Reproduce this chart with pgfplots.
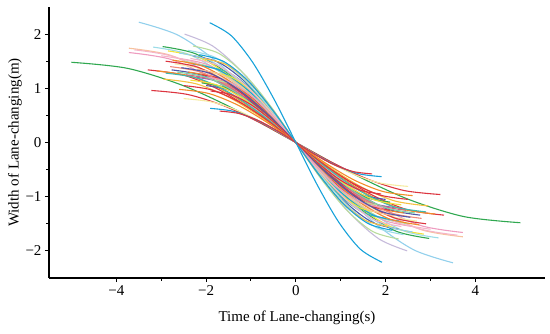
\documentclass[border=0pt]{standalone}
\usepackage{pgfplots}
\pgfplotsset{compat=1.18}
\usepackage{fontspec}
\setmainfont{Liberation Serif}
\definecolor{cred}{HTML}{DC3540}
\definecolor{cgreen}{HTML}{30A850}
\definecolor{ccyan}{HTML}{17A2DA}
\definecolor{clav}{HTML}{C6BBDB}
\definecolor{csky}{HTML}{92D0EC}
\definecolor{cpeach}{HTML}{F7C29C}
\definecolor{cpink}{HTML}{EE9CC0}
\definecolor{clpink}{HTML}{F5B5C8}
\definecolor{clcyan}{HTML}{9CDCE8}
\definecolor{corange}{HTML}{F28C28}
\definecolor{cnavy}{HTML}{5058A8}
\definecolor{clyellow}{HTML}{F6EBA2}
\definecolor{cyellow}{HTML}{F2E23C}
\definecolor{clgreen}{HTML}{B8DC9C}
\definecolor{cteal}{HTML}{3FB8AF}
\definecolor{cpurple}{HTML}{8E6BB5}
\definecolor{csalmon}{HTML}{F08A7A}
\definecolor{crose}{HTML}{E0607E}
\definecolor{cgold}{HTML}{F5C040}
\definecolor{cmint}{HTML}{7FD1A8}
\begin{document}
\begin{tikzpicture}
\begin{axis}[
  name=ax,
  scale only axis,
  width=496bp, height=271bp,
  xmin=-5.5, xmax=5.55, ymin=-2.5, ymax=2.5,
  axis x line*=bottom, axis y line*=left,
  axis line style={line width=1.1pt, black},
  tick align=outside,
  major tick length=4bp, minor tick length=2.5bp,
  tick style={line width=1pt, black},
  xtick={-4,-2,0,2,4}, xticklabels={−4,−2,0,2,4},
  ytick={-2,-1,0,1,2}, yticklabels={−2,−1,0,1,2},
  minor x tick num=1, minor y tick num=1,
  ticklabel style={font=\fontsize{15bp}{17bp}\selectfont},
  label style={font=\fontsize{15bp}{17bp}\selectfont},
  xlabel={Time of Lane-changing(s)},
  ylabel={Width of Lane-changing(m)},
  xlabel style={at={(axis description cs:0.5,0)}, anchor=center, yshift=-40bp},
  ylabel style={at={(axis description cs:0,0.5)}, anchor=center, yshift=34bp},
  cv/.style={smooth, no markers, line width=1.1pt},
]
\addplot[cv,cgreen] coordinates {(-5,1.48)(-3.75,1.368)(-2.5,1.046)(-1.25,0.567)(0,0)(1.25,-0.567)(2.5,-1.046)(3.75,-1.368)(5,-1.48)};
\addplot[cv,csky] coordinates {(-3.5,2.22)(-2.625,1.98)(-1.75,1.483)(-0.875,0.793)(0,0)(0.875,-0.793)(1.75,-1.483)(2.625,-1.98)(3.5,-2.22)};
\addplot[cv,clav] coordinates {(-2.48,2.0)(-1.86,1.784)(-1.24,1.336)(-0.62,0.714)(0,0)(0.62,-0.714)(1.24,-1.336)(1.86,-1.784)(2.48,-2.0)};
\addplot[cv,cpeach] coordinates {(-3.72,1.74)(-2.79,1.608)(-1.86,1.23)(-0.93,0.666)(0,0)(0.93,-0.666)(1.86,-1.23)(2.79,-1.608)(3.72,-1.74)};
\addplot[cv,cpink] coordinates {(-3.72,1.66)(-2.79,1.534)(-1.86,1.174)(-0.93,0.636)(0,0)(0.93,-0.636)(1.86,-1.174)(2.79,-1.534)(3.72,-1.66)};
\addplot[cv,clpink] coordinates {(-3.6,1.71)(-2.7,1.58)(-1.8,1.209)(-0.9,0.655)(0,0)(0.9,-0.655)(1.8,-1.209)(2.7,-1.58)(3.6,-1.71)};
\addplot[cv,clcyan] coordinates {(-3.18,1.76)(-2.385,1.626)(-1.59,1.244)(-0.795,0.674)(0,0)(0.795,-0.674)(1.59,-1.244)(2.385,-1.626)(3.18,-1.76)};
\addplot[cv,cgreen] coordinates {(-2.97,1.77)(-2.228,1.635)(-1.485,1.251)(-0.743,0.678)(0,0)(0.743,-0.678)(1.485,-1.251)(2.228,-1.635)(2.97,-1.77)};
\addplot[cv,cred] coordinates {(-3.3,1.34)(-2.475,1.238)(-1.65,0.947)(-0.825,0.513)(0,0)(0.825,-0.513)(1.65,-0.947)(2.475,-1.238)(3.3,-1.34)};
\addplot[cv,corange] coordinates {(-3.1,1.32)(-2.325,1.22)(-1.55,0.933)(-0.775,0.506)(0,0)(0.775,-0.506)(1.55,-0.933)(2.325,-1.22)(3.1,-1.32)};
\addplot[cv,cnavy] coordinates {(-2.77,1.34)(-2.078,1.238)(-1.385,0.947)(-0.693,0.513)(0,0)(0.693,-0.513)(1.385,-0.947)(2.078,-1.238)(2.77,-1.34)};
\addplot[cv,cred] coordinates {(-3.22,0.96)(-2.415,0.887)(-1.61,0.679)(-0.805,0.368)(0,0)(0.805,-0.368)(1.61,-0.679)(2.415,-0.887)(3.22,-0.96)};
\addplot[cv,clyellow] coordinates {(-2.5,0.81)(-1.875,0.748)(-1.25,0.573)(-0.625,0.31)(0,0)(0.625,-0.31)(1.25,-0.573)(1.875,-0.748)(2.5,-0.81)};
\addplot[cv,clgreen] coordinates {(-2.29,1.78)(-1.718,1.645)(-1.145,1.258)(-0.573,0.682)(0,0)(0.573,-0.682)(1.145,-1.258)(1.718,-1.645)(2.29,-1.78)};
\addplot[cv,cyellow] coordinates {(-2.85,1.69)(-2.138,1.562)(-1.425,1.195)(-0.713,0.647)(0,0)(0.713,-0.647)(1.425,-1.195)(2.138,-1.562)(2.85,-1.69)};
\addplot[cv,cnavy] coordinates {(-2.29,1.6)(-1.718,1.478)(-1.145,1.131)(-0.573,0.613)(0,0)(0.573,-0.613)(1.145,-1.131)(1.718,-1.478)(2.29,-1.6)};
\addplot[cv,cgold] coordinates {(-2.95,1.17)(-2.213,1.081)(-1.475,0.827)(-0.738,0.448)(0,0)(0.738,-0.448)(1.475,-0.827)(2.213,-1.081)(2.95,-1.17)};
\addplot[cv,cpink] coordinates {(-2.6,1.55)(-1.95,1.432)(-1.3,1.096)(-0.65,0.594)(0,0)(0.65,-0.594)(1.3,-1.096)(1.95,-1.432)(2.6,-1.55)};
\addplot[cv,corange] coordinates {(-2.4,1.3)(-1.8,1.201)(-1.2,0.919)(-0.6,0.498)(0,0)(0.6,-0.498)(1.2,-0.919)(1.8,-1.201)(2.4,-1.3)};
\addplot[cv,cred] coordinates {(-2.1,1.25)(-1.575,1.155)(-1.05,0.884)(-0.525,0.479)(0,0)(0.525,-0.479)(1.05,-0.884)(1.575,-1.155)(2.1,-1.25)};
\addplot[cv,cteal] coordinates {(-2.0,1.4)(-1.5,1.294)(-1.0,0.99)(-0.5,0.536)(0,0)(0.5,-0.536)(1.0,-0.99)(1.5,-1.294)(2.0,-1.4)};
\addplot[cv,clyellow] coordinates {(-2.7,1.45)(-2.025,1.34)(-1.35,1.025)(-0.675,0.555)(0,0)(0.675,-0.555)(1.35,-1.025)(2.025,-1.34)(2.7,-1.45)};
\addplot[cv,clgreen] coordinates {(-2.5,1.5)(-1.875,1.386)(-1.25,1.061)(-0.625,0.575)(0,0)(0.625,-0.575)(1.25,-1.061)(1.875,-1.386)(2.5,-1.5)};
\addplot[cv,cpurple] coordinates {(-2.2,1.2)(-1.65,1.109)(-1.1,0.848)(-0.55,0.46)(0,0)(0.55,-0.46)(1.1,-0.848)(1.65,-1.109)(2.2,-1.2)};
\addplot[cv,csalmon] coordinates {(-2.8,1.4)(-2.1,1.294)(-1.4,0.99)(-0.7,0.536)(0,0)(0.7,-0.536)(1.4,-0.99)(2.1,-1.294)(2.8,-1.4)};
\addplot[cv,clpink] coordinates {(-3.0,1.6)(-2.25,1.478)(-1.5,1.131)(-0.75,0.613)(0,0)(0.75,-0.613)(1.5,-1.131)(2.25,-1.478)(3.0,-1.6)};
\addplot[cv,csky] coordinates {(-2.6,1.65)(-1.95,1.525)(-1.3,1.167)(-0.65,0.632)(0,0)(0.65,-0.632)(1.3,-1.167)(1.95,-1.525)(2.6,-1.65)};
\addplot[cv,cgreen] coordinates {(-2.1,1.1)(-1.575,1.016)(-1.05,0.778)(-0.525,0.421)(0,0)(0.525,-0.421)(1.05,-0.778)(1.575,-1.016)(2.1,-1.1)};
\addplot[cv,ccyan] coordinates {(-2.3,1.45)(-1.725,1.34)(-1.15,1.025)(-0.575,0.555)(0,0)(0.575,-0.555)(1.15,-1.025)(1.725,-1.34)(2.3,-1.45)};
\addplot[cv,cyellow] coordinates {(-1.9,1.3)(-1.425,1.201)(-0.95,0.919)(-0.475,0.498)(0,0)(0.475,-0.498)(0.95,-0.919)(1.425,-1.201)(1.9,-1.3)};
\addplot[cv,crose] coordinates {(-2.45,1.25)(-1.838,1.155)(-1.225,0.884)(-0.613,0.479)(0,0)(0.613,-0.479)(1.225,-0.884)(1.838,-1.155)(2.45,-1.25)};
\addplot[cv,cnavy] coordinates {(-2.0,1.05)(-1.5,0.97)(-1.0,0.742)(-0.5,0.402)(0,0)(0.5,-0.402)(1.0,-0.742)(1.5,-0.97)(2.0,-1.05)};
\addplot[cv,corange] coordinates {(-2.75,1.52)(-2.063,1.404)(-1.375,1.075)(-0.688,0.582)(0,0)(0.688,-0.582)(1.375,-1.075)(2.063,-1.404)(2.75,-1.52)};
\addplot[cv,clcyan] coordinates {(-2.4,1.7)(-1.8,1.571)(-1.2,1.202)(-0.6,0.651)(0,0)(0.6,-0.651)(1.2,-1.202)(1.8,-1.571)(2.4,-1.7)};
\addplot[cv,cred] coordinates {(-2.9,1.5)(-2.175,1.386)(-1.45,1.061)(-0.725,0.575)(0,0)(0.725,-0.575)(1.45,-1.061)(2.175,-1.386)(2.9,-1.5)};
\addplot[cv,cpeach] coordinates {(-2.2,1.35)(-1.65,1.247)(-1.1,0.954)(-0.55,0.517)(0,0)(0.55,-0.517)(1.1,-0.954)(1.65,-1.247)(2.2,-1.35)};
\addplot[cv,clgreen] coordinates {(-1.8,1.15)(-1.35,1.063)(-0.9,0.813)(-0.45,0.44)(0,0)(0.45,-0.44)(0.9,-0.813)(1.35,-1.063)(1.8,-1.15)};
\addplot[cv,cmint] coordinates {(-2.65,1.3)(-1.988,1.201)(-1.325,0.919)(-0.663,0.498)(0,0)(0.663,-0.498)(1.325,-0.919)(1.988,-1.201)(2.65,-1.3)};
\addplot[cv,clpink] coordinates {(-2.35,1.55)(-1.763,1.432)(-1.175,1.096)(-0.588,0.594)(0,0)(0.588,-0.594)(1.175,-1.096)(1.763,-1.432)(2.35,-1.55)};
\addplot[cv,cgold] coordinates {(-2.05,1.55)(-1.538,1.432)(-1.025,1.096)(-0.513,0.594)(0,0)(0.513,-0.594)(1.025,-1.096)(1.538,-1.432)(2.05,-1.55)};
\addplot[cv,cteal] coordinates {(-2.9,1.28)(-2.175,1.183)(-1.45,0.905)(-0.725,0.49)(0,0)(0.725,-0.49)(1.45,-0.905)(2.175,-1.183)(2.9,-1.28)};
\addplot[cv,cred] coordinates {(-2.5,1.05)(-1.875,0.97)(-1.25,0.742)(-0.625,0.402)(0,0)(0.625,-0.402)(1.25,-0.742)(1.875,-0.97)(2.5,-1.05)};
\addplot[cv,cpink] coordinates {(-1.95,1.2)(-1.463,1.109)(-0.975,0.848)(-0.488,0.46)(0,0)(0.488,-0.46)(0.975,-0.848)(1.463,-1.109)(1.95,-1.2)};
\addplot[cv,cnavy] coordinates {(-2.55,1.38)(-1.913,1.275)(-1.275,0.976)(-0.638,0.529)(0,0)(0.638,-0.529)(1.275,-0.976)(1.913,-1.275)(2.55,-1.38)};
\addplot[cv,ccyan] coordinates {(-2.15,1.62)(-1.613,1.497)(-1.075,1.145)(-0.538,0.62)(0,0)(0.538,-0.62)(1.075,-1.145)(1.613,-1.497)(2.15,-1.62)};
\addplot[cv,cyellow] coordinates {(-2.35,1.15)(-1.763,1.063)(-1.175,0.813)(-0.588,0.44)(0,0)(0.588,-0.44)(1.175,-0.813)(1.763,-1.063)(2.35,-1.15)};
\addplot[cv,cred] coordinates {(-1.9,0.95)(-1.425,0.878)(-0.95,0.672)(-0.475,0.364)(0,0)(0.475,-0.364)(0.95,-0.672)(1.425,-0.878)(1.9,-0.95)};
\addplot[cv,corange] coordinates {(-2.6,0.98)(-1.95,0.906)(-1.3,0.693)(-0.65,0.375)(0,0)(0.65,-0.375)(1.3,-0.693)(1.95,-0.906)(2.6,-0.98)};
\addplot[cv,ccyan] coordinates {(-1.91,0.63)(-1.433,0.582)(-0.955,0.445)(-0.478,0.241)(0,0)(0.478,-0.241)(0.955,-0.445)(1.433,-0.582)(1.91,-0.63)};
\addplot[cv,cred] coordinates {(-1.7,0.58)(-1.275,0.536)(-0.85,0.41)(-0.425,0.222)(0,0)(0.425,-0.222)(0.85,-0.41)(1.275,-0.536)(1.7,-0.58)};
\addplot[cv,ccyan] coordinates {(-1.92,2.21)(-1.44,1.971)(-0.96,1.476)(-0.48,0.789)(0,0)(0.48,-0.789)(0.96,-1.476)(1.44,-1.971)(1.92,-2.21)};
\end{axis}
\path (ax.south west) ++(-49bp,-56bp) rectangle ++(550bp,334bp);
\end{tikzpicture}
\end{document}
